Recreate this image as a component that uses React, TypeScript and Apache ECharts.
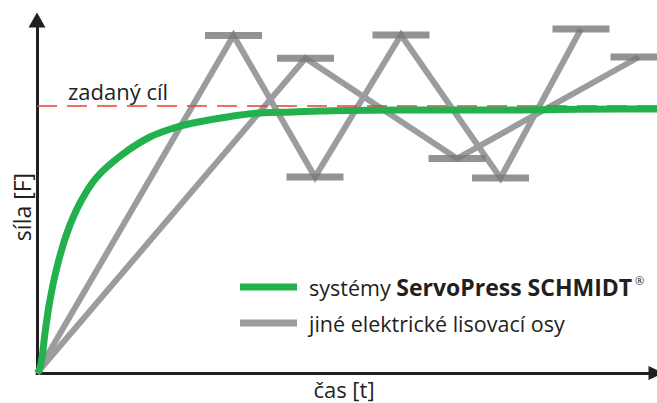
import React, { useEffect, useRef } from "react";
import * as echarts from "echarts";

// Units: time (x) and force (y) in arbitrary chart units
const GREEN_NAME = "systémy ServoPress SCHMIDT";
const GRAY_NAME = "jiné elektrické lisovací osy";

const servoPressX = [1, 3, 5, 8, 13, 20, 30, 43, 60, 86, 113, 140, 156, 190, 223, 256, 283, 363, 463, 583, 620];
const servoPressY = [0, 5, 15, 40, 73, 106, 140, 170, 196, 219, 236, 246, 250, 256, 260, 261, 262, 263, 263, 264, 264];

const otherAxisAX = [0, 196.5, 278, 364, 463.5, 544];
const otherAxisAY = [0, 337.5, 196, 338, 195, 344];

const otherAxisBX = [0, 268.5, 420, 602];
const otherAxisBY = [0, 314.7, 214.5, 316];

const targetX = [0, 620];
const targetY = [267, 267];

const X_MAX = 619;
const Y_MAX = 353;

const FONT = "'Open Sans', 'Noto Sans', sans-serif";
const TEXT = "#231f20";

function pairs(xs: number[], ys: number[]) {
  return xs.map((x, i) => [x, ys[i]]);
}

export default function App() {
  const ref = useRef<HTMLDivElement>(null);
  useEffect(() => {
    if (!ref.current) return;
    const chart = echarts.init(ref.current, undefined, { renderer: "svg" });
    const barPoints = [
      ...pairs(otherAxisAX, otherAxisAY).slice(1),
      ...pairs(otherAxisBX, otherAxisBY).slice(1),
    ];
    chart.setOption({
      animation: false,
      backgroundColor: "#ffffff",
      textStyle: { fontFamily: FONT },
      grid: { left: 37, right: 1, top: 20, bottom: 30, outerBoundsMode: "none", containLabel: false },
      xAxis: {
        type: "value",
        min: 0,
        max: X_MAX,
        splitLine: { show: false },
        axisTick: { show: false },
        axisLabel: { show: false },
        axisLine: {
          show: true,
          lineStyle: { color: TEXT, width: 3 },
          symbol: ["none", "triangle"],
          symbolSize: [14, 15],
        },
      },
      yAxis: {
        type: "value",
        min: 0,
        max: Y_MAX,
        splitLine: { show: false },
        axisTick: { show: false },
        axisLabel: { show: false },
        axisLine: {
          show: true,
          lineStyle: { color: TEXT, width: 3 },
          symbol: ["none", "triangle"],
          symbolSize: [17, 15],
        },
      },
      legend: {
        orient: "vertical",
        left: 235,
        top: 270,
        itemWidth: 57,
        itemHeight: 7,
        itemGap: 12,
        selectedMode: false,
        data: [
          { name: GREEN_NAME, icon: "rect" },
          { name: GRAY_NAME, icon: "rect" },
        ],
        formatter: (name: string) =>
          name === GREEN_NAME
            ? "{n|systémy }{b|ServoPress SCHMIDT}{r| ®}"
            : "{n|" + name + "}",
        textStyle: {
          fontFamily: FONT,
          fontSize: 21.5,
          color: TEXT,
          lineHeight: 24,
          rich: {
            n: { fontFamily: FONT, fontSize: 21.5, color: TEXT, lineHeight: 24, padding: [0, 0, 0, 7] },
            b: { fontFamily: FONT, fontSize: 23, fontWeight: "bold", color: TEXT, lineHeight: 24 },
            r: { fontFamily: FONT, fontSize: 11, color: TEXT, lineHeight: 24, verticalAlign: "top" },
          },
        },
      },
      graphic: [
        {
          type: "text",
          x: 68,
          y: 91,
          style: {
            text: "zadaný cíl",
            font: `22px ${FONT}`,
            fill: TEXT,
            align: "left",
            verticalAlign: "middle",
          },
        },
        {
          type: "text",
          x: 22,
          y: 207,
          rotation: Math.PI / 2,
          style: {
            text: "síla [F]",
            font: `23px ${FONT}`,
            fill: TEXT,
            align: "center",
            verticalAlign: "middle",
          },
        },
        {
          type: "text",
          x: 344,
          y: 389,
          style: {
            text: "čas [t]",
            font: `22px ${FONT}`,
            fill: TEXT,
            align: "center",
            verticalAlign: "middle",
          },
        },
      ],
      series: [
        {
          name: GRAY_NAME,
          type: "line",
          data: pairs(otherAxisAX, otherAxisAY),
          showSymbol: false,
          symbol: "none",
          clip: false,
          z: 2,
          itemStyle: { color: "#9b9c9e" },
          lineStyle: { color: "#9b9c9e", width: 6, join: "miter" },
        },
        {
          name: GRAY_NAME,
          type: "line",
          data: pairs(otherAxisBX, otherAxisBY),
          showSymbol: false,
          symbol: "none",
          clip: false,
          z: 2,
          itemStyle: { color: "#9b9c9e" },
          lineStyle: { color: "#9b9c9e", width: 6, join: "miter" },
        },
        {
          name: "peaks",
          type: "scatter",
          data: barPoints,
          symbol: "rect",
          symbolSize: [57, 7],
          clip: false,
          z: 3,
          itemStyle: { color: "#77787b" },
        },
        {
          name: "target",
          type: "line",
          data: pairs(targetX, targetY),
          showSymbol: false,
          symbol: "none",
          clip: false,
          z: 4,
          lineStyle: { color: "#e4412f", width: 1.5, type: [20, 10] },
        },
        {
          name: GREEN_NAME,
          type: "line",
          data: pairs(servoPressX, servoPressY),
          showSymbol: false,
          symbol: "none",
          smooth: 0.4,
          clip: false,
          z: 5,
          itemStyle: { color: "#22b14c" },
          lineStyle: { color: "#22b14c", width: 7 },
        },
      ],
    });
    return () => chart.dispose();
  }, []);
  return (
    <div
      ref={ref}
      style={{ position: "fixed", left: 0, top: 0, width: 657, height: 403, background: "#fff" }}
    />
  );
}
